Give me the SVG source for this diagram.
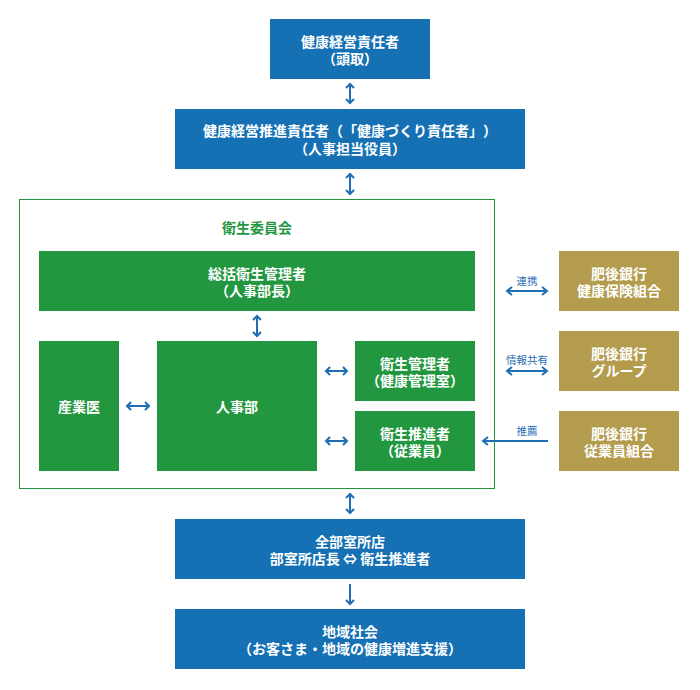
<svg xmlns="http://www.w3.org/2000/svg" width="700" height="690" viewBox="0 0 700 690">
<style>
text{font-family:"Noto Sans CJK JP","Noto Sans",sans-serif;font-weight:bold;font-size:14px;text-anchor:middle;dominant-baseline:central;fill:#fff;text-spacing-trim:space-all}
.blue{fill:#1570b4}
.green{fill:#239740}
.gold{fill:#b39c4d}
.title{fill:#239740;font-size:14px}
.lbl{fill:#1f6db3;font-size:10.5px;font-weight:normal}
.arr{fill:none;stroke:#1f6db3;stroke-width:2}
</style>
<rect width="700" height="690" fill="#fff"/>
<g id="committee">
<rect x="19.5" y="199.5" width="475" height="289" fill="none" stroke="#239740" stroke-width="1"/>
<text class="title" x="257" y="227">衛生委員会</text>
</g>
<g id="n1"><rect class="blue" x="270" y="19" width="160" height="60"/><text x="350" y="41">健康経営責任者</text><text x="350" y="58">（頭取）</text></g>
<g id="n2"><rect class="blue" x="175" y="109" width="350" height="60"/><text x="350" y="130">健康経営推進責任者（「健康づくり責任者」）</text><text x="350" y="147.5">（人事担当役員）</text></g>
<g id="n3"><rect class="green" x="39" y="251" width="436" height="60"/><text x="257" y="272.5">総括衛生管理者</text><text x="257" y="289.5">（人事部長）</text></g>
<g id="n4"><rect class="green" x="39" y="341" width="80" height="130"/><text x="79" y="406">産業医</text></g>
<g id="n5"><rect class="green" x="157" y="341" width="160" height="130"/><text x="237" y="406">人事部</text></g>
<g id="n6"><rect class="green" x="355" y="341" width="120" height="60"/><text x="415" y="362.5">衛生管理者</text><text x="415" y="379.5">（健康管理室）</text></g>
<g id="n7"><rect class="green" x="355" y="411" width="120" height="60"/><text x="415" y="432.5">衛生推進者</text><text x="415" y="449.5">（従業員）</text></g>
<g id="n8"><rect class="gold" x="559" y="251" width="120" height="60"/><text x="619" y="272.5">肥後銀行</text><text x="619" y="289.5">健康保険組合</text></g>
<g id="n9"><rect class="gold" x="559" y="331" width="120" height="60"/><text x="619" y="352.5">肥後銀行</text><text x="619" y="369.5">グループ</text></g>
<g id="n10"><rect class="gold" x="559" y="411" width="120" height="60"/><text x="619" y="432.5">肥後銀行</text><text x="619" y="449.5">従業員組合</text></g>
<g id="n11"><rect class="blue" x="175" y="519" width="350" height="60"/><text x="350" y="540.5">全部室所店</text><text x="350" y="557.5">部室所店長 ⇔ 衛生推進者</text></g>
<g id="n12"><rect class="blue" x="175" y="609" width="350" height="60"/><text x="350" y="630.5">地域社会</text><text x="350" y="647.5">（お客さま・地域の健康増進支援）</text></g>
<g id="connectors">
<path class="arr" d="M350 84V103M346 88L350 84L354 88M346 99L350 103L354 99"/>
<path class="arr" d="M350 174V194M346 178L350 174L354 178M346 190L350 194L354 190"/>
<path class="arr" d="M257 316V336M253 320L257 316L261 320M253 332L257 336L261 332"/>
<path class="arr" d="M127 406H149M131 402L127 406L131 410M145 402L149 406L145 410"/>
<path class="arr" d="M326 371H347M330 367L326 371L330 375M343 367L347 371L343 375"/>
<path class="arr" d="M326 441H347M330 437L326 441L330 445M343 437L347 441L343 445"/>
<path class="arr" d="M507 291H547M512 287L507 291L512 295M542 287L547 291L542 295"/>
<path class="arr" d="M507 371H547M512 367L507 371L512 375M542 367L547 371L542 375"/>
<path class="arr" d="M483 441H548M488 437L483 441L488 445"/>
<path class="arr" d="M350 494V513M346 498L350 494L354 498M346 509L350 513L354 509"/>
<path class="arr" d="M350 584V604M346 600L350 604L354 600"/>
<text class="lbl" x="527" y="280">連携</text>
<text class="lbl" x="527" y="359">情報共有</text>
<text class="lbl" x="527" y="430">推薦</text>
</g>
</svg>
